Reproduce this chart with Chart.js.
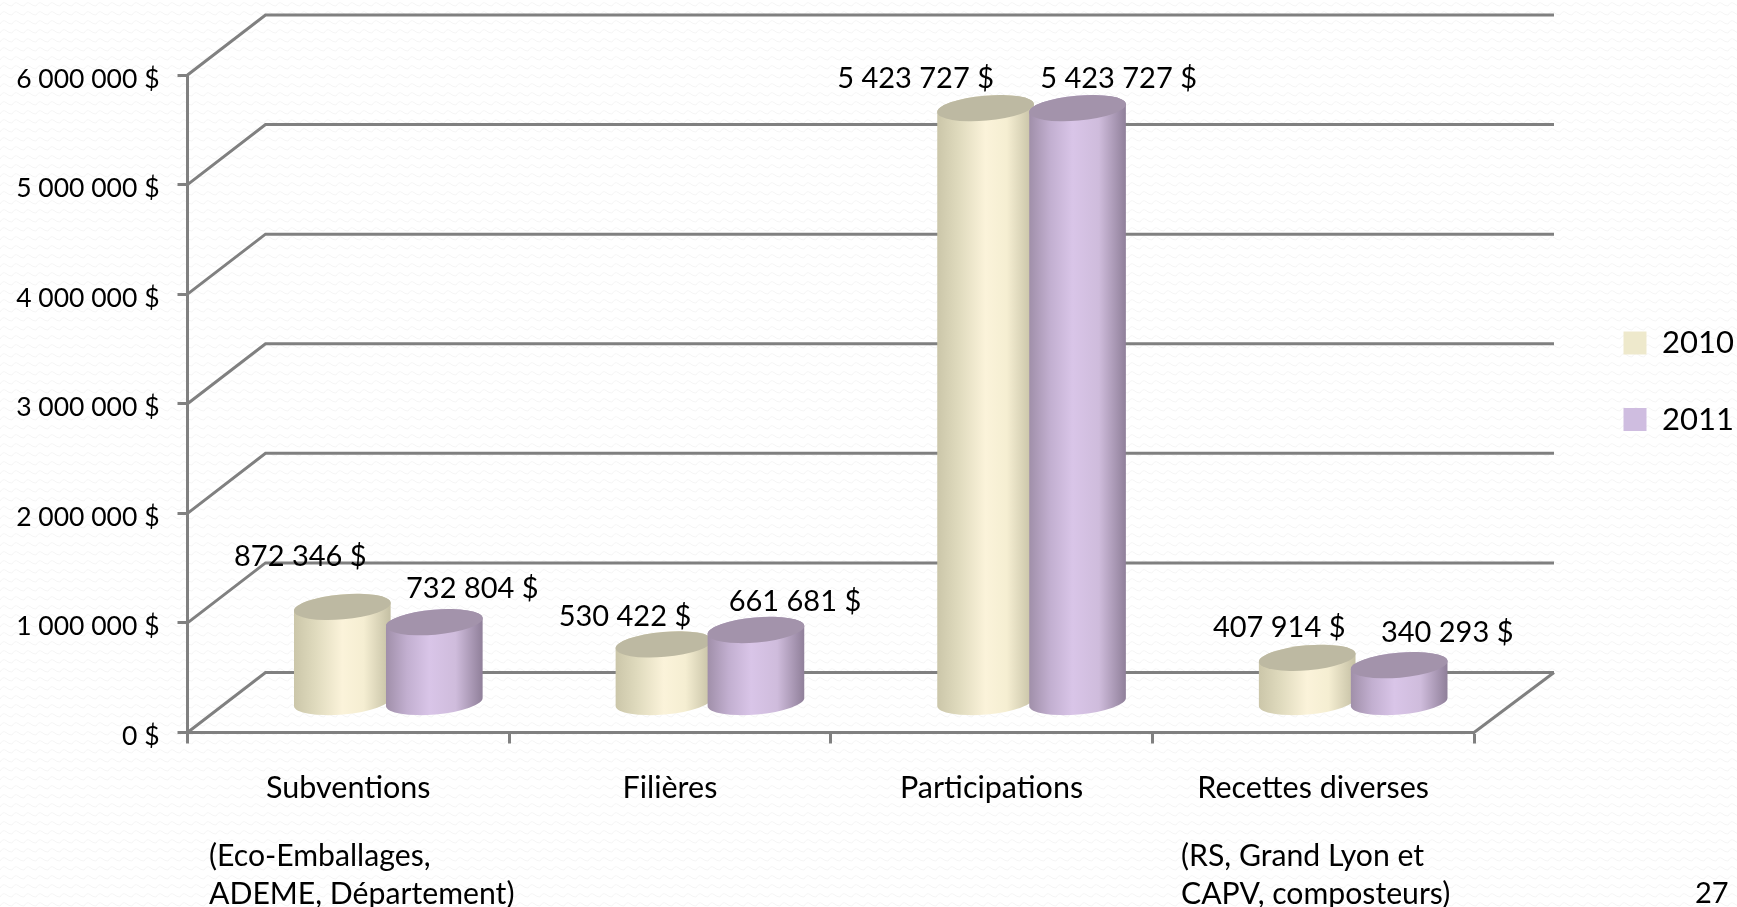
<!DOCTYPE html>
<html>
<head>
<meta charset="utf-8">
<title>Recettes</title>
<script src="https://cdn.jsdelivr.net/npm/chart.js@4"></script>
<style>
    html, body { margin: 0; padding: 0; background-color: #fff; overflow: hidden; }
    body {
        background-image: url("data:image/svg+xml,%3Csvg xmlns='http://www.w3.org/2000/svg' width='12' height='9'%3E%3Cpath d='M0 6 Q3 1 6 3.5 T12 6' fill='none' stroke='%23f5f5f5' stroke-width='1'/%3E%3C/svg%3E");
    }
    canvas { display: block; }
</style>
</head>
<body>
<canvas id="myChart" width="1737" height="907"></canvas>
<script>
const categories = ["Subventions", "Filières", "Participations", "Recettes diverses"];
const seriesNames = ["2010", "2011"];
const values2010 = [872346, 530422, 5423727, 407914];
const values2011 = [732804, 661681, 5423727, 340293];
const yMax = 6000000;
const yStep = 1000000;

// text boxes under the axis, and where the hand placed labels sit
const noteLines = ["(Eco-Emballages,", "ADEME, Département)", "(RS, Grand Lyon et", "CAPV, composteurs)"];
const notePlaces = [[209, 856], [209, 894], [1181, 856], [1181, 894]];
const pageNumber = "27";
const labelShift2010 = [[-2, -80], [1, -58], [-30, -60], [12, -60]];
const labelShift2011 = [[78, -64], [79, -58], [81, -60], [88, -63]];

const FONT = "Lato, 'Open Sans', sans-serif";
const LINE = "#808080";
const DEPTH_X = 78;
const DEPTH_Y = 60;
const TILT = -5 * Math.PI / 180;

const looks = [
    {
        top: "#bdb9a2",
        body: [[0, "#cbc6a9"], [0.22, "#dfdabd"], [0.5, "#fbf3da"], [0.72, "#f5eed2"], [1, "#c4bfa3"]]
    },
    {
        top: "#a393ab",
        body: [[0, "#a08fa9"], [0.22, "#c2afd0"], [0.45, "#d9c5e8"], [0.72, "#cfbcdc"], [1, "#8f7f99"]]
    }
];

function money(v) {
    return String(v).replace(/\B(?=(\d{3})+$)/g, " ") + " $";
}

function drawCylinder(ctx, cx, topY, baseY, rx, look) {
    const ry = 12.5;
    const grad = ctx.createLinearGradient(cx - rx, 0, cx + rx, 0);
    look.body.forEach(s => grad.addColorStop(s[0], s[1]));
    ctx.beginPath();
    ctx.ellipse(cx, baseY, rx, ry, TILT, 0, Math.PI);
    ctx.ellipse(cx, topY, rx, ry, TILT, Math.PI, Math.PI * 2);
    ctx.closePath();
    ctx.fillStyle = grad;
    ctx.fill();
    ctx.beginPath();
    ctx.ellipse(cx, topY, rx, ry, TILT, 0, Math.PI * 2);
    ctx.fillStyle = look.top;
    ctx.fill();
}

// the 3d look: back wall, floor and cylinders, all from the chart's own scales
const depthPlugin = {
    id: "depth",
    afterLayout(chart) {
        const l = chart.legend;
        l.left = 1578;
        l.right = 1737;
        l.top = 282;
        l.bottom = 520;
    },
    beforeDatasetsDraw(chart) {
        const ctx = chart.ctx;
        const y = chart.scales.y;
        const area = chart.chartArea;
        ctx.save();
        ctx.strokeStyle = LINE;
        ctx.lineWidth = 3;
        y.ticks.forEach(t => {
            const py = y.getPixelForValue(t.value);
            ctx.beginPath();
            ctx.moveTo(area.left, py);
            ctx.lineTo(area.left + DEPTH_X, py - DEPTH_Y);
            ctx.lineTo(area.right + DEPTH_X + 2, py - DEPTH_Y);
            ctx.stroke();
        });
        const floor = y.getPixelForValue(0);
        ctx.beginPath();
        ctx.moveTo(area.right, floor);
        ctx.lineTo(area.right + DEPTH_X + 2, floor - DEPTH_Y);
        ctx.stroke();

        chart.data.datasets.forEach((ds, i) => {
            chart.getDatasetMeta(i).data.forEach(bar => {
                const cx = bar.x + DEPTH_X / 2 + 1;
                drawCylinder(ctx, cx, bar.y - DEPTH_Y / 2, bar.base - DEPTH_Y / 2, 48.5, looks[i]);
            });
        });
        ctx.restore();
    },
    beforeDatasetDraw() {
        return false;
    },
    afterDatasetsDraw(chart) {
        const ctx = chart.ctx;
        ctx.save();
        ctx.fillStyle = "#000";
        ctx.textBaseline = "middle";
        ctx.font = "29px " + FONT;
        ctx.textAlign = "center";
        const shifts = [labelShift2010, labelShift2011];
        chart.data.datasets.forEach((ds, i) => {
            chart.getDatasetMeta(i).data.forEach((bar, j) => {
                ctx.fillText(money(ds.data[j]), bar.x + shifts[i][j][0], bar.y + shifts[i][j][1]);
            });
        });
        ctx.textAlign = "left";
        ctx.font = "30.2px " + FONT;
        noteLines.forEach((line, i) => ctx.fillText(line, notePlaces[i][0], notePlaces[i][1]));
        ctx.font = "29px " + FONT;
        ctx.fillText(pageNumber, 1695, 894);
        ctx.restore();
    }
};

const ctx = document.getElementById("myChart");

let myChart = new Chart(ctx, {
    type: "bar",
    plugins: [depthPlugin],
    data: {
        labels: categories,
        datasets: [
            { label: seriesNames[0], data: values2010, backgroundColor: "#eee9cc", borderWidth: 0 },
            { label: seriesNames[1], data: values2011, backgroundColor: "#cfbde0", borderWidth: 0 }
        ]
    },
    options: {
        responsive: false,
        animation: false,
        categoryPercentage: 0.572,
        barPercentage: 1,
        layout: { padding: { left: 0, right: 263, top: 75, bottom: 0 } },
        plugins: {
            tooltip: { enabled: false },
            legend: {
                display: true,
                position: "chartArea",
                align: "start",
                labels: {
                    boxWidth: 23,
                    boxHeight: 23,
                    padding: 45.5,
                    color: "#000",
                    font: { family: FONT, size: 31 }
                }
            }
        },
        scales: {
            x: {
                afterFit(scale) { scale.height = 907 - 732.5; },
                grid: { drawOnChartArea: false, drawTicks: true, tickLength: 11, tickWidth: 3, tickColor: LINE },
                border: { color: LINE, width: 3 },
                ticks: { color: "#000", padding: 26, maxRotation: 0, font: { family: FONT, size: 30.5 } }
            },
            y: {
                min: 0,
                max: yMax,
                afterFit(scale) { scale.width = 187.5; },
                grid: { drawOnChartArea: false, drawTicks: true, tickLength: 10, tickWidth: 3, tickColor: LINE },
                border: { color: LINE, width: 3 },
                ticks: {
                    stepSize: yStep,
                    color: "#000",
                    padding: 18,
                    labelOffset: 4,
                    font: { family: FONT, size: 26.5 },
                    callback: v => money(v)
                }
            }
        }
    }
});
</script>
</body>
</html>
